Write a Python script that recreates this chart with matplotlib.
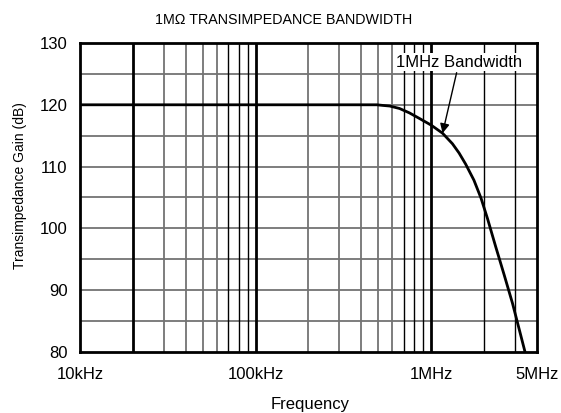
import matplotlib
matplotlib.use("Agg")
import matplotlib.pyplot as plt

plt.rcParams['font.family'] = ['Liberation Sans', 'DejaVu Sans']

# curve (Hz, dB)
freq = [1e4, 4.9e5, 5.3e5, 5.8e5, 6.6e5, 7.5e5, 8.55e5, 1.0e6, 1.16e6, 1.32e6,
        1.44e6, 1.57e6, 1.75e6, 1.92e6, 2.09e6, 2.33e6, 2.6e6, 2.9e6, 3.16e6, 3.42e6]
gain = [120, 120, 119.9, 119.8, 119.4, 118.7, 117.8, 116.7, 115.4, 113.7,
        112.2, 110.4, 107.8, 104.9, 101.6, 97.0, 92.5, 87.9, 83.8, 80]

xticks = [1e4, 1e5, 1e6, 4e6]
xlabels = ["10kHz", "100kHz", "1MHz", "5MHz"]
yticks = [80, 90, 100, 110, 120, 130]

major_v = [2e4, 1e5, 1e6]
gray_v = [3e4, 4e4, 5e4, 6e4, 2e5, 3e5, 4e5, 5e5, 6e5]
black_v = [7e4, 8e4, 9e4, 7e5, 8e5, 9e5, 2e6, 3e6]
h_lines = [85, 90, 95, 100, 105, 110, 115, 120, 125]

fig = plt.figure(figsize=(5.61, 4.13), dpi=100)
ax = fig.add_axes([0.1426, 0.1477, 0.8146, 0.7482])

ax.set_xscale('log')
ax.set_xlim(1e4, 4e6)
ax.set_ylim(80, 130)

for y in h_lines:
    ax.axhline(y, color='0.45', lw=1.3, zorder=1)
for x in gray_v:
    ax.axvline(x, color='0.45', lw=1.3, zorder=1)
for x in black_v:
    ax.axvline(x, color='black', lw=1.0, zorder=1)
for x in major_v:
    ax.axvline(x, color='black', lw=2.0, zorder=2)

ax.plot(freq, gain, color='black', lw=2.0, zorder=3)

ax.annotate("1MHz Bandwidth", xy=(1.16e6, 115.4), xytext=(1.44e6, 126.9),
            fontsize=12, ha='center', va='center',
            bbox=dict(boxstyle='square,pad=0.1', fc='white', ec='none'),
            arrowprops=dict(arrowstyle='-|>', color='black', lw=1.0,
                            mutation_scale=14, shrinkA=1, shrinkB=0),
            zorder=4)

ax.set_xticks(xticks)
ax.set_xticklabels(xlabels)
ax.xaxis.set_minor_locator(matplotlib.ticker.NullLocator())
ax.set_yticks(yticks)
ax.tick_params(length=0, labelsize=12)
ax.tick_params(axis='x', pad=11)
ax.tick_params(axis='y', pad=9)

for s in ax.spines.values():
    s.set_linewidth(2.0)
    s.set_zorder(5)

fig.text(284 / 561, 1 - 20 / 413, "1M\u03a9 TRANSIMPEDANCE BANDWIDTH",
         fontsize=10.3, ha='center', va='center')
fig.text(310 / 561, 1 - 405 / 413, "Frequency", fontsize=12, ha='center', va='center')
fig.text(20 / 561, 1 - 186 / 413, "Transimpedance Gain (dB)", fontsize=10,
         rotation=90, ha='center', va='center')

fig.savefig("out.png", dpi=100)
